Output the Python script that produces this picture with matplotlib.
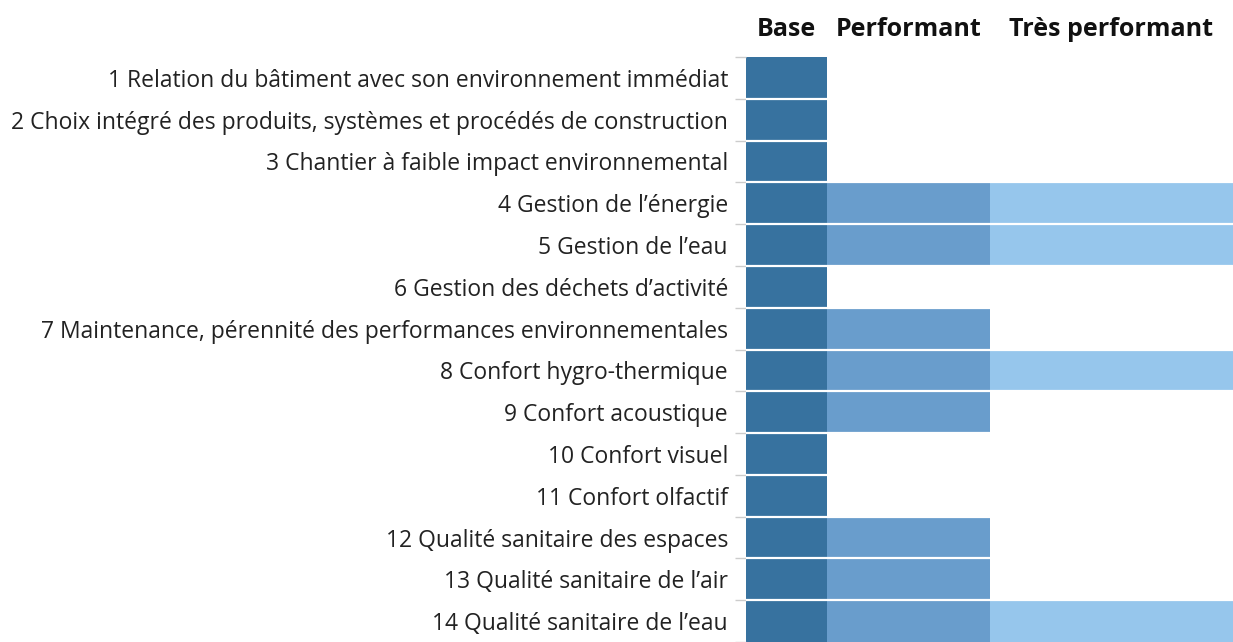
import matplotlib
matplotlib.use("Agg")
import matplotlib.pyplot as plt
import numpy as np

plt.rcParams['font.family'] = ['Open Sans', 'DejaVu Sans']

# =========================================================
# data
# =========================================================
criteria = [
    "1 Relation du bâtiment avec son environnement immédiat",
    "2 Choix intégré des produits, systèmes et procédés de construction",
    "3 Chantier à faible impact environnemental",
    "4 Gestion de l’énergie",
    "5 Gestion de l’eau",
    "6 Gestion des déchets d’activité",
    "7 Maintenance, pérennité des performances environnementales",
    "8 Confort hygro-thermique",
    "9 Confort acoustique",
    "10 Confort visuel",
    "11 Confort olfactif",
    "12 Qualité sanitaire des espaces",
    "13 Qualité sanitaire de l’air",
    "14 Qualité sanitaire de l’eau",
]
# 1 = Base, 2 = Performant, 3 = Très performant
levels = [1, 1, 1, 3, 3, 1, 2, 3, 2, 1, 1, 2, 2, 3]
level_names = ["Base", "Performant", "Très performant"]
level_widths = [1, 2, 3]
colors = ["#37729f", "#699dcc", "#96c6ec"]

# =========================================================
# plotting
# =========================================================
fig = plt.figure(figsize=(12.33, 6.42), dpi=100)
ax = fig.add_axes([746 / 1233, 0, 487 / 1233, 585 / 642])

y = np.arange(len(criteria))
levels = np.array(levels)
starts = np.concatenate([[0], np.cumsum(level_widths)[:-1]])
for k in range(len(level_names)):
    mask = levels >= k + 1
    ax.barh(y[mask], level_widths[k], left=starts[k], height=1.0,
            color=colors[k], linewidth=0)
    ax.text(starts[k] + level_widths[k] / 2, 1.047, level_names[k],
            transform=ax.get_xaxis_transform(), ha="center", va="center",
            fontsize=18, fontweight="bold", color="#111111", clip_on=False)

# white separators between rows
for b in np.arange(len(criteria) - 1) + 0.5:
    ax.axhline(b, color="white", linewidth=1.6, zorder=3)

ax.set_xlim(0, sum(level_widths))
ax.set_ylim(-0.5 + 585 / 42.2, -0.5)

ax.set_yticks(np.arange(len(criteria) + 1) - 0.5)
ax.set_yticklabels([])
ax.tick_params(axis="y", which="major", length=8, color="#cccccc", width=1)
ax.set_yticks(y, minor=True)
ax.set_yticklabels(criteria, minor=True, fontsize=16.5, color="#222222")
ax.tick_params(axis="y", which="minor", length=0, pad=13)
ax.set_xticks([])
for s in ax.spines.values():
    s.set_visible(False)

plt.savefig("out.png", dpi=100)
